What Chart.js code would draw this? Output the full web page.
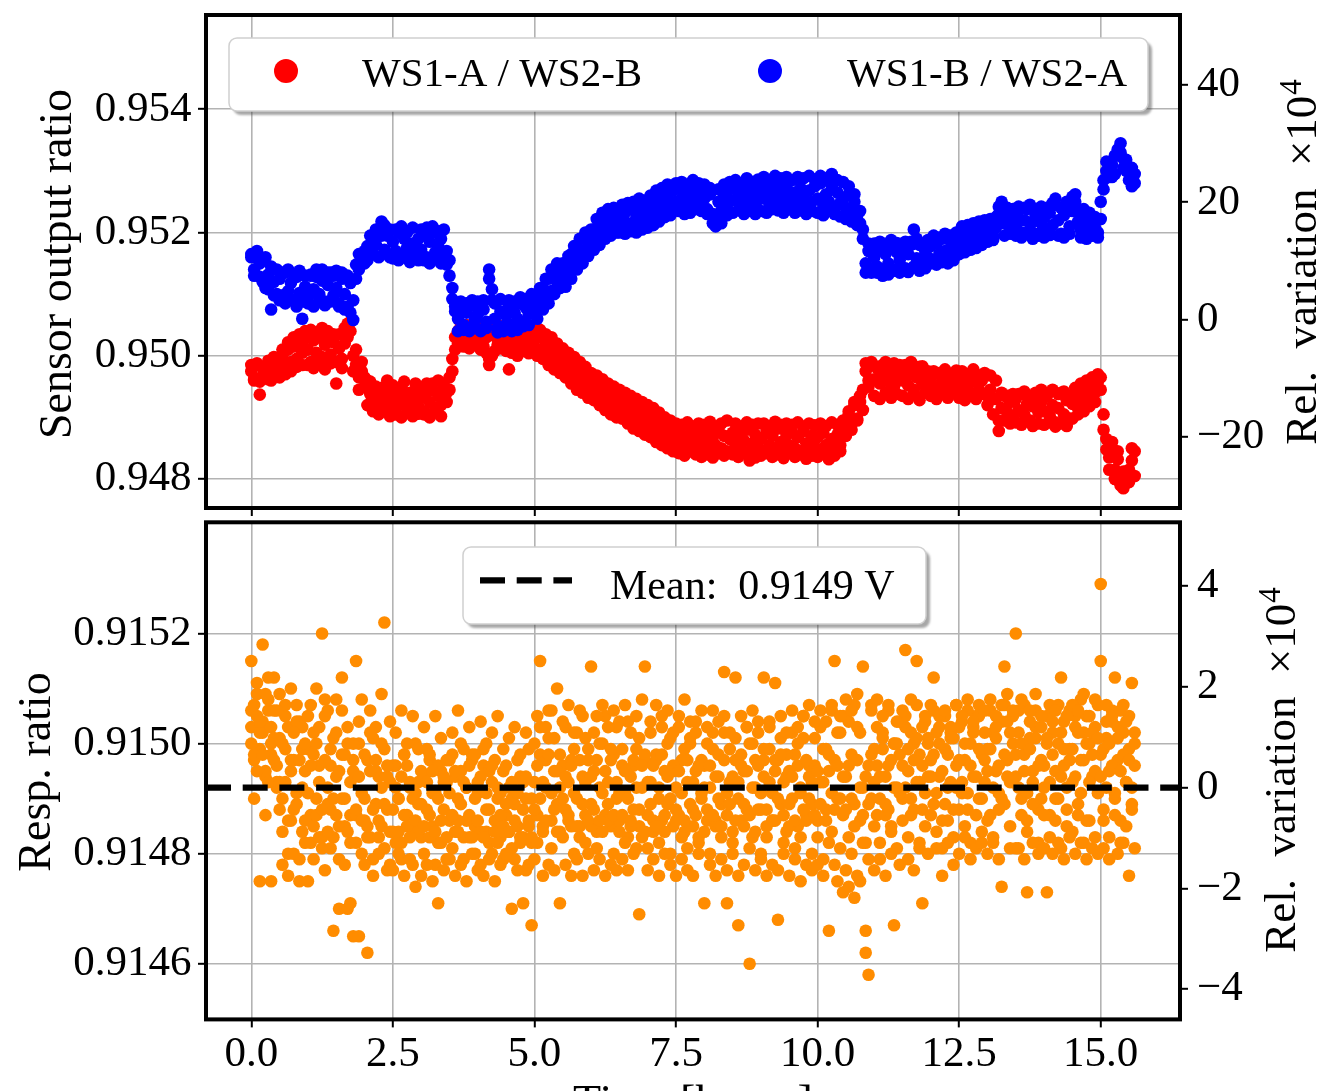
<!DOCTYPE html>
<html>
<head>
<meta charset="utf-8">
<title>Sensor output ratios over time</title>
<script src="https://cdn.jsdelivr.net/npm/chart.js@4.4.1/dist/chart.umd.min.js"></script>
<style>
  html, body { margin: 0; padding: 0; background: #ffffff; }
  #wrap { position: relative; width: 1317px; height: 1091px; overflow: hidden; }
  canvas { position: absolute; left: 0; }
  #ratioChart { top: 0; }
  #respChart { top: 516px; }
</style>
</head>
<body>
<div id="wrap">
  <canvas id="ratioChart" width="1317" height="516"></canvas>
  <canvas id="respChart" width="1317" height="575"></canvas>
</div>
<script>
// Sampling times [hours]
const timeHours = [
  0,0.05,0.1,0.15,0.2,0.25,0.3,0.35,0.4,0.45,
  0.5,0.55,0.6,0.65,0.7,0.75,0.8,0.85,0.9,0.95,
  1,1.05,1.1,1.15,1.2,1.25,1.3,1.35,1.4,1.45,
  1.5,1.55,1.6,1.65,1.7,1.75,1.8,1.85,1.9,1.95,
  2,2.05,2.1,2.15,2.2,2.25,2.3,2.35,2.4,2.45,
  2.5,2.55,2.6,2.65,2.7,2.75,2.8,2.85,2.9,2.95,
  3,3.05,3.1,3.15,3.2,3.25,3.3,3.35,3.4,3.45,
  3.5,3.55,3.6,3.65,3.7,3.75,3.8,3.85,3.9,3.95,
  4,4.05,4.1,4.15,4.2,4.25,4.3,4.35,4.4,4.45,
  4.5,4.55,4.6,4.65,4.7,4.75,4.8,4.85,4.9,4.95,
  5,5.05,5.1,5.15,5.2,5.25,5.3,5.35,5.4,5.45,
  5.5,5.55,5.6,5.65,5.7,5.75,5.8,5.85,5.9,5.95,
  6,6.05,6.1,6.15,6.2,6.25,6.3,6.35,6.4,6.45,
  6.5,6.55,6.6,6.65,6.7,6.75,6.8,6.85,6.9,6.95,
  7,7.05,7.1,7.15,7.2,7.25,7.3,7.35,7.4,7.45,
  7.5,7.55,7.6,7.65,7.7,7.75,7.8,7.85,7.9,7.95,
  8,8.05,8.1,8.15,8.2,8.25,8.3,8.35,8.4,8.45,
  8.5,8.55,8.6,8.65,8.7,8.75,8.8,8.85,8.9,8.95,
  9,9.05,9.1,9.15,9.2,9.25,9.3,9.35,9.4,9.45,
  9.5,9.55,9.6,9.65,9.7,9.75,9.8,9.85,9.9,9.95,
  10,10.05,10.1,10.15,10.2,10.25,10.3,10.35,10.4,10.45,
  10.5,10.55,10.6,10.65,10.7,10.75,10.8,10.85,10.9,10.95,
  11,11.05,11.1,11.15,11.2,11.25,11.3,11.35,11.4,11.45,
  11.5,11.55,11.6,11.65,11.7,11.75,11.8,11.85,11.9,11.95,
  12,12.05,12.1,12.15,12.2,12.25,12.3,12.35,12.4,12.45,
  12.5,12.55,12.6,12.65,12.7,12.75,12.8,12.85,12.9,12.95,
  13,13.05,13.1,13.15,13.2,13.25,13.3,13.35,13.4,13.45,
  13.5,13.55,13.6,13.65,13.7,13.75,13.8,13.85,13.9,13.95,
  14,14.05,14.1,14.15,14.2,14.25,14.3,14.35,14.4,14.45,
  14.5,14.55,14.6,14.65,14.7,14.75,14.8,14.85,14.9,14.95,
  15,15.05,15.1,15.15,15.2,15.25,15.3,15.35,15.4,15.45,
  15.5,15.55,15.6
];

// WS1-A / WS2-B sensor output ratio, two readings per sampling time
const ratioA1 = [
  0.94975,0.94960,0.94985,0.94937,0.94968,0.94980,0.94962,0.94990,0.94972,0.94995,
  0.94978,0.95000,0.94985,0.95010,0.94990,0.95015,0.94995,0.95020,0.95005,0.95028,
  0.95010,0.94990,0.95025,0.95005,0.95030,0.94998,0.95018,0.95035,0.95002,0.95022,
  0.94955,0.95012,0.94995,0.95020,0.95052,0.95040,0.95000,0.94985,0.94965,0.94975,
  0.94950,0.94960,0.94938,0.94945,0.94925,0.94940,0.94918,0.94935,0.94960,0.94922,
  0.94938,0.94915,0.94930,0.94948,0.94920,0.94935,0.94912,0.94928,0.94945,0.94918,
  0.94932,0.94910,0.94940,0.94925,0.94955,0.94915,0.94935,0.94920,0.94948,0.94940,
  0.94965,0.94995,0.95030,0.95040,0.95025,0.95045,0.95020,0.95038,0.95028,0.95042,
  0.95022,0.95035,0.95015,0.95030,0.94985,0.95000,0.95032,0.95018,0.95040,0.95025,
  0.95030,0.94978,0.95020,0.95035,0.95012,0.95028,0.95008,0.95022,0.95035,0.95015,
  0.95025,0.95010,0.95030,0.95005,0.95022,0.94998,0.95015,0.94990,0.95005,0.94985,
  0.94995,0.94975,0.94988,0.94965,0.94980,0.94958,0.94972,0.94950,0.94965,0.94945,
  0.94958,0.94940,0.94952,0.94932,0.94948,0.94925,0.94942,0.94920,0.94935,0.94915,
  0.94930,0.94910,0.94925,0.94905,0.94920,0.94898,0.94915,0.94895,0.94910,0.94890,
  0.94905,0.94885,0.94898,0.94878,0.94892,0.94872,0.94888,0.94868,0.94882,0.94862,
  0.94878,0.94858,0.94872,0.94852,0.94868,0.94885,0.94860,0.94875,0.94850,0.94870,
  0.94858,0.94878,0.94848,0.94868,0.94855,0.94880,0.94850,0.94870,0.94845,0.94865,
  0.94875,0.94852,0.94870,0.94848,0.94862,0.94880,0.94830,0.94858,0.94872,0.94850,
  0.94865,0.94845,0.94878,0.94855,0.94870,0.94850,0.94882,0.94860,0.94848,0.94872,
  0.94855,0.94875,0.94850,0.94868,0.94845,0.94878,0.94858,0.94840,0.94870,0.94852,
  0.94868,0.94848,0.94875,0.94855,0.94842,0.94865,0.94850,0.94872,0.94855,0.94880,
  0.94885,0.94905,0.94890,0.94920,0.94898,0.94925,0.94945,0.94975,0.94960,0.94985,
  0.94962,0.94980,0.94955,0.94972,0.94990,0.94958,0.94975,0.94950,0.94968,0.94985,
  0.94960,0.94978,0.94952,0.94970,0.94945,0.94965,0.94982,0.94955,0.94970,0.94948,
  0.94965,0.94950,0.94972,0.94945,0.94960,0.94955,0.94968,0.94942,0.94958,0.94950,
  0.94962,0.94940,0.94955,0.94948,0.94965,0.94935,0.94958,0.94945,0.94960,0.94938,
  0.94920,0.94945,0.94905,0.94930,0.94878,0.94915,0.94935,0.94908,0.94925,0.94900,
  0.94930,0.94912,0.94938,0.94905,0.94922,0.94895,0.94918,0.94932,0.94908,0.94925,
  0.94910,0.94935,0.94902,0.94920,0.94892,0.94915,0.94940,0.94905,0.94928,0.94898,
  0.94922,0.94935,0.94915,0.94940,0.94925,0.94948,0.94932,0.94952,0.94940,0.94958,
  0.94945,0.94905,0.94865,0.94835,0.94850,0.94815,0.94832,0.94800,0.94785,0.94810,
  0.94795,0.94830,0.94845
];
const ratioA2 = [
  0.94985,0.94962,0.94988,0.94958,0.94980,0.94965,0.94992,0.94960,0.94998,0.94970,
  0.94965,0.95010,0.94970,0.95022,0.94975,0.95030,0.94982,0.95035,0.94985,0.95040,
  0.94985,0.95042,0.94980,0.95038,0.94990,0.95045,0.94978,0.95040,0.94988,0.95035,
  0.94990,0.95035,0.94980,0.95045,0.95030,0.95055,0.94975,0.95010,0.94945,0.94990,
  0.94965,0.94920,0.94958,0.94910,0.94950,0.94905,0.94948,0.94912,0.94945,0.94902,
  0.94952,0.94905,0.94945,0.94900,0.94958,0.94908,0.94940,0.94902,0.94955,0.94906,
  0.94948,0.94905,0.94955,0.94900,0.94945,0.94908,0.94960,0.94902,0.94952,0.94925,
  0.94945,0.94975,0.95010,0.95020,0.95048,0.95015,0.95050,0.95012,0.95045,0.95018,
  0.95045,0.95010,0.95048,0.95005,0.94995,0.95045,0.95008,0.95050,0.95012,0.95042,
  0.95008,0.95045,0.95005,0.95042,0.95000,0.95048,0.95010,0.95040,0.95004,0.95045,
  0.95040,0.95000,0.95042,0.94995,0.95035,0.94985,0.95030,0.94978,0.95020,0.94972,
  0.95012,0.94965,0.95005,0.94955,0.94998,0.94945,0.94990,0.94940,0.94982,0.94932,
  0.94972,0.94928,0.94968,0.94920,0.94962,0.94912,0.94955,0.94905,0.94950,0.94900,
  0.94945,0.94898,0.94940,0.94890,0.94935,0.94882,0.94930,0.94878,0.94925,0.94872,
  0.94920,0.94868,0.94915,0.94860,0.94908,0.94855,0.94900,0.94850,0.94895,0.94845,
  0.94890,0.94842,0.94888,0.94838,0.94892,0.94845,0.94885,0.94840,0.94890,0.94836,
  0.94888,0.94840,0.94893,0.94835,0.94885,0.94842,0.94890,0.94838,0.94895,0.94844,
  0.94840,0.94890,0.94836,0.94885,0.94842,0.94892,0.94845,0.94888,0.94835,0.94890,
  0.94838,0.94890,0.94842,0.94886,0.94836,0.94893,0.94840,0.94888,0.94834,0.94890,
  0.94842,0.94888,0.94836,0.94892,0.94840,0.94885,0.94833,0.94890,0.94838,0.94887,
  0.94836,0.94890,0.94840,0.94886,0.94832,0.94892,0.94838,0.94888,0.94845,0.94895,
  0.94870,0.94910,0.94880,0.94925,0.94895,0.94935,0.94912,0.94988,0.94950,0.94990,
  0.94935,0.94982,0.94930,0.94985,0.94940,0.94978,0.94932,0.94988,0.94938,0.94980,
  0.94935,0.94985,0.94930,0.94990,0.94938,0.94980,0.94928,0.94983,0.94940,0.94975,
  0.94935,0.94975,0.94930,0.94972,0.94938,0.94978,0.94932,0.94970,0.94940,0.94976,
  0.94932,0.94975,0.94928,0.94970,0.94935,0.94978,0.94930,0.94968,0.94938,0.94972,
  0.94935,0.94968,0.94930,0.94960,0.94895,0.94940,0.94895,0.94935,0.94890,0.94938,
  0.94892,0.94938,0.94888,0.94942,0.94895,0.94935,0.94886,0.94940,0.94890,0.94945,
  0.94888,0.94940,0.94892,0.94945,0.94885,0.94938,0.94890,0.94942,0.94886,0.94935,
  0.94898,0.94948,0.94905,0.94955,0.94910,0.94960,0.94918,0.94965,0.94925,0.94970,
  0.94965,0.94880,0.94848,0.94815,0.94860,0.94800,0.94845,0.94790,0.94812,0.94795,
  0.94815,0.94850,0.94805
];

// WS1-B / WS2-A sensor output ratio, two readings per sampling time
const ratioB1 = [
  0.95160,0.95140,0.95170,0.95128,0.95155,0.95110,0.95132,0.95075,0.95120,0.95100,
  0.95125,0.95098,0.95135,0.95105,0.95118,0.95090,0.95128,0.95102,0.95060,0.95112,
  0.95095,0.95130,0.95108,0.95140,0.95100,0.95122,0.95088,0.95115,0.95135,0.95098,
  0.95110,0.95085,0.95125,0.95100,0.95080,0.95118,0.95058,0.95148,0.95140,0.95160,
  0.95150,0.95178,0.95165,0.95190,0.95180,0.95200,0.95218,0.95172,0.95195,0.95160,
  0.95185,0.95170,0.95200,0.95165,0.95190,0.95175,0.95158,0.95182,0.95168,0.95190,
  0.95172,0.95195,0.95160,0.95185,0.95200,0.95168,0.95178,0.95190,0.95162,0.95170,
  0.95130,0.95092,0.95072,0.95060,0.95080,0.95050,0.95070,0.95045,0.95082,0.95058,
  0.95068,0.95040,0.95075,0.95055,0.95125,0.95108,0.95060,0.95038,0.95072,0.95048,
  0.95065,0.95082,0.95050,0.95070,0.95060,0.95085,0.95055,0.95078,0.95068,0.95090,
  0.95075,0.95100,0.95085,0.95110,0.95095,0.95125,0.95105,0.95135,0.95120,0.95140,
  0.95128,0.95150,0.95138,0.95165,0.95148,0.95175,0.95160,0.95190,0.95172,0.95195,
  0.95180,0.95205,0.95190,0.95215,0.95198,0.95220,0.95205,0.95230,0.95212,0.95200,
  0.95225,0.95208,0.95232,0.95215,0.95238,0.95210,0.95225,0.95240,0.95218,0.95235,
  0.95222,0.95245,0.95230,0.95250,0.95235,0.95258,0.95240,0.95262,0.95245,0.95268,
  0.95250,0.95272,0.95255,0.95240,0.95265,0.95248,0.95275,0.95258,0.95242,0.95268,
  0.95255,0.95238,0.95262,0.95230,0.95225,0.95250,0.95235,0.95260,0.95245,0.95270,
  0.95252,0.95275,0.95258,0.95240,0.95265,0.95250,0.95272,0.95255,0.95245,0.95268,
  0.95255,0.95278,0.95260,0.95245,0.95270,0.95252,0.95280,0.95262,0.95248,0.95275,
  0.95258,0.95240,0.95265,0.95250,0.95272,0.95255,0.95242,0.95268,0.95250,0.95275,
  0.95255,0.95280,0.95245,0.95262,0.95250,0.95275,0.95238,0.95265,0.95248,0.95255,
  0.95240,0.95262,0.95235,0.95250,0.95228,0.95215,0.95205,0.95150,0.95170,0.95135,
  0.95160,0.95145,0.95172,0.95130,0.95165,0.95150,0.95178,0.95140,0.95168,0.95155,
  0.95175,0.95142,0.95165,0.95185,0.95205,0.95158,0.95180,0.95148,0.95170,0.95160,
  0.95178,0.95155,0.95182,0.95165,0.95190,0.95170,0.95162,0.95185,0.95172,0.95192,
  0.95180,0.95195,0.95175,0.95190,0.95200,0.95182,0.95198,0.95188,0.95205,0.95192,
  0.95200,0.95210,0.95195,0.95208,0.95242,0.95225,0.95215,0.95230,0.95205,0.95222,
  0.95210,0.95235,0.95200,0.95220,0.95238,0.95205,0.95218,0.95228,0.95198,0.95215,
  0.95225,0.95205,0.95232,0.95212,0.95245,0.95220,0.95198,0.95228,0.95240,0.95210,
  0.95235,0.95250,0.95218,0.95205,0.95230,0.95212,0.95200,0.95222,0.95208,0.95200,
  0.95222,0.95285,0.95300,0.95290,0.95310,0.95295,0.95325,0.95345,0.95320,0.95300,
  0.95285,0.95305,0.95280
];
const ratioB2 = [
  0.95165,0.95130,0.95168,0.95150,0.95120,0.95160,0.95108,0.95145,0.95098,0.95140,
  0.95090,0.95135,0.95085,0.95140,0.95092,0.95132,0.95080,0.95138,0.95088,0.95130,
  0.95085,0.95132,0.95080,0.95128,0.95090,0.95140,0.95082,0.95135,0.95088,0.95130,
  0.95138,0.95080,0.95135,0.95075,0.95130,0.95070,0.95090,0.95125,0.95165,0.95150,
  0.95170,0.95155,0.95195,0.95165,0.95205,0.95160,0.95195,0.95212,0.95165,0.95205,
  0.95158,0.95205,0.95155,0.95210,0.95160,0.95200,0.95152,0.95208,0.95162,0.95155,
  0.95205,0.95155,0.95208,0.95150,0.95210,0.95158,0.95202,0.95150,0.95205,0.95148,
  0.95155,0.95110,0.95080,0.95040,0.95088,0.95042,0.95085,0.95040,0.95090,0.95045,
  0.95088,0.95042,0.95090,0.95045,0.95140,0.95090,0.95085,0.95045,0.95092,0.95040,
  0.95045,0.95090,0.95040,0.95088,0.95042,0.95095,0.95048,0.95092,0.95050,0.95100,
  0.95098,0.95060,0.95110,0.95075,0.95125,0.95085,0.95140,0.95100,0.95150,0.95110,
  0.95150,0.95112,0.95162,0.95125,0.95178,0.95140,0.95190,0.95150,0.95200,0.95162,
  0.95205,0.95172,0.95222,0.95180,0.95232,0.95190,0.95238,0.95195,0.95240,0.95228,
  0.95200,0.95245,0.95198,0.95248,0.95202,0.95250,0.95200,0.95255,0.95205,0.95252,
  0.95208,0.95260,0.95212,0.95268,0.95218,0.95272,0.95225,0.95278,0.95228,0.95245,
  0.95280,0.95235,0.95282,0.95230,0.95278,0.95232,0.95285,0.95238,0.95280,0.95235,
  0.95278,0.95230,0.95272,0.95215,0.95210,0.95270,0.95215,0.95278,0.95228,0.95282,
  0.95232,0.95285,0.95236,0.95280,0.95230,0.95288,0.95235,0.95282,0.95230,0.95286,
  0.95235,0.95290,0.95232,0.95285,0.95238,0.95292,0.95236,0.95288,0.95232,0.95290,
  0.95238,0.95285,0.95232,0.95290,0.95236,0.95288,0.95230,0.95292,0.95235,0.95286,
  0.95232,0.95292,0.95228,0.95288,0.95235,0.95295,0.95230,0.95285,0.95226,0.95282,
  0.95222,0.95275,0.95218,0.95262,0.95212,0.95235,0.95190,0.95135,0.95182,0.95140,
  0.95182,0.95135,0.95185,0.95140,0.95180,0.95132,0.95188,0.95138,0.95183,0.95135,
  0.95140,0.95185,0.95136,0.95180,0.95145,0.95190,0.95138,0.95182,0.95142,0.95188,
  0.95150,0.95195,0.95148,0.95192,0.95152,0.95198,0.95150,0.95195,0.95155,0.95200,
  0.95165,0.95210,0.95168,0.95212,0.95172,0.95215,0.95175,0.95218,0.95180,0.95220,
  0.95185,0.95222,0.95188,0.95225,0.95230,0.95250,0.95195,0.95240,0.95198,0.95238,
  0.95195,0.95242,0.95192,0.95240,0.95198,0.95245,0.95190,0.95238,0.95195,0.95242,
  0.95192,0.95240,0.95196,0.95248,0.95255,0.95195,0.95240,0.95192,0.95250,0.95198,
  0.95258,0.95262,0.95235,0.95192,0.95238,0.95190,0.95232,0.95195,0.95225,0.95192,
  0.95250,0.95270,0.95315,0.95305,0.95290,0.95325,0.95335,0.95330,0.95305,0.95318,
  0.95300,0.95275,0.95295
];

// Response ratio, four readings per sampling time
const respRatio1 = [
  0.91503,0.91497,0.91505,0.91499,0.91502,0.91494,0.91506,0.91498,0.91501,0.91496,
  0.91488,0.91500,0.91493,0.91503,0.91486,0.91497,0.91491,0.91504,0.91484,0.91495,
  0.91499,0.91487,0.91502,0.91490,0.91496,0.91483,0.91505,0.91492,0.91488,0.91501,
  0.91494,0.91485,0.91498,0.91490,0.91503,0.91487,0.91495,0.91482,0.91500,0.91491,
  0.91486,0.91497,0.91483,0.91501,0.91489,0.91494,0.91485,0.91499,0.91488,0.91493,
  0.91484,0.91496,0.91490,0.91482,0.91498,0.91487,0.91492,0.91485,0.91500,0.91489,
  0.91483,0.91494,0.91488,0.91497,0.91485,0.91491,0.91482,0.91495,0.91488,0.91493,
  0.91486,0.91498,0.91484,0.91490,0.91495,0.91483,0.91492,0.91487,0.91497,0.91485,
  0.91491,0.91484,0.91496,0.91488,0.91482,0.91493,0.91486,0.91490,0.91483,0.91495,
  0.91487,0.91492,0.91481,0.91489,0.91485,0.91494,0.91483,0.91490,0.91486,0.91482,
  0.91493,0.91487,0.91498,0.91484,0.91492,0.91501,0.91486,0.91495,0.91489,0.91484,
  0.91496,0.91488,0.91493,0.91485,0.91499,0.91490,0.91483,0.91494,0.91487,0.91497,
  0.91489,0.91495,0.91484,0.91492,0.91500,0.91487,0.91493,0.91485,0.91498,0.91490,
  0.91486,0.91496,0.91491,0.91483,0.91494,0.91488,0.91499,0.91485,0.91492,0.91497,
  0.91487,0.91493,0.91484,0.91498,0.91490,0.91486,0.91495,0.91489,0.91501,0.91485,
  0.91492,0.91487,0.91497,0.91484,0.91493,0.91500,0.91488,0.91495,0.91483,0.91491,
  0.91496,0.91486,0.91492,0.91499,0.91485,0.91494,0.91489,0.91502,0.91487,0.91493,
  0.91484,0.91497,0.91490,0.91486,0.91495,0.91488,0.91500,0.91483,0.91492,0.91496,
  0.91488,0.91494,0.91485,0.91499,0.91491,0.91486,0.91497,0.91489,0.91493,0.91484,
  0.91495,0.91490,0.91498,0.91485,0.91492,0.91501,0.91487,0.91494,0.91489,0.91496,
  0.91486,0.91493,0.91499,0.91488,0.91495,0.91484,0.91497,0.91490,0.91502,0.91487,
  0.91494,0.91483,0.91498,0.91489,0.91503,0.91486,0.91492,0.91482,0.91496,0.91490,
  0.91499,0.91487,0.91494,0.91502,0.91489,0.91496,0.91485,0.91500,0.91492,0.91498,
  0.91490,0.91503,0.91495,0.91487,0.91500,0.91493,0.91498,0.91488,0.91504,0.91494,
  0.91497,0.91489,0.91502,0.91494,0.91486,0.91499,0.91492,0.91501,0.91488,0.91496,
  0.91503,0.91491,0.91497,0.91488,0.91500,0.91494,0.91505,0.91490,0.91498,0.91493,
  0.91499,0.91487,0.91502,0.91495,0.91491,0.91504,0.91489,0.91497,0.91493,0.91500,
  0.91494,0.91506,0.91490,0.91498,0.91486,0.91501,0.91495,0.91503,0.91488,0.91497,
  0.91492,0.91500,0.91487,0.91504,0.91495,0.91490,0.91502,0.91496,0.91485,0.91499,
  0.91493,0.91505,0.91489,0.91497,0.91502,0.91486,0.91500,0.91494,0.91503,0.91491,
  0.91498,0.91488,0.91501,0.91495,0.91504,0.91490,0.91497,0.91486,0.91502,0.91493,
  0.91499,0.91489,0.91496
];
const respRatio2 = [
  0.91506,0.91498,0.91511,0.91502,0.91518,0.91495,0.91508,0.91500,0.91512,0.91493,
  0.91501,0.91484,0.91507,0.91480,0.91497,0.91488,0.91504,0.91479,0.91499,0.91486,
  0.91505,0.91482,0.91498,0.91487,0.91503,0.91481,0.91508,0.91489,0.91496,0.91483,
  0.91502,0.91479,0.91506,0.91485,0.91500,0.91482,0.91497,0.91487,0.91504,0.91480,
  0.91498,0.91483,0.91502,0.91479,0.91495,0.91486,0.91500,0.91481,0.91494,0.91478,
  0.91496,0.91482,0.91490,0.91479,0.91498,0.91485,0.91493,0.91478,0.91491,0.91484,
  0.91495,0.91480,0.91499,0.91483,0.91491,0.91478,0.91496,0.91482,0.91493,0.91479,
  0.91497,0.91481,0.91494,0.91486,0.91500,0.91479,0.91492,0.91483,0.91498,0.91480,
  0.91493,0.91478,0.91499,0.91484,0.91495,0.91480,0.91497,0.91482,0.91491,0.91479,
  0.91496,0.91484,0.91490,0.91479,0.91497,0.91482,0.91493,0.91477,0.91499,0.91483,
  0.91500,0.91482,0.91503,0.91485,0.91497,0.91506,0.91481,0.91501,0.91484,0.91498,
  0.91483,0.91503,0.91486,0.91497,0.91480,0.91502,0.91485,0.91505,0.91482,0.91499,
  0.91485,0.91502,0.91481,0.91500,0.91484,0.91505,0.91486,0.91497,0.91480,0.91503,
  0.91484,0.91499,0.91482,0.91504,0.91485,0.91496,0.91481,0.91501,0.91483,0.91498,
  0.91481,0.91502,0.91486,0.91497,0.91482,0.91505,0.91484,0.91500,0.91480,0.91496,
  0.91486,0.91503,0.91483,0.91499,0.91481,0.91501,0.91485,0.91504,0.91482,0.91497,
  0.91484,0.91500,0.91480,0.91502,0.91486,0.91498,0.91483,0.91505,0.91471,0.91499,
  0.91482,0.91501,0.91467,0.91496,0.91485,0.91503,0.91481,0.91500,0.91484,0.91502,
  0.91480,0.91499,0.91483,0.91504,0.91486,0.91497,0.91468,0.91501,0.91482,0.91498,
  0.91485,0.91502,0.91481,0.91500,0.91483,0.91505,0.91486,0.91496,0.91480,0.91501,
  0.91483,0.91503,0.91479,0.91499,0.91482,0.91506,0.91478,0.91502,0.91481,0.91505,
  0.91477,0.91504,0.91480,0.91507,0.91476,0.91502,0.91482,0.91466,0.91479,0.91506,
  0.91485,0.91503,0.91482,0.91501,0.91487,0.91506,0.91484,0.91500,0.91481,0.91504,
  0.91486,0.91505,0.91483,0.91502,0.91488,0.91507,0.91482,0.91503,0.91485,0.91501,
  0.91487,0.91506,0.91484,0.91503,0.91481,0.91505,0.91486,0.91502,0.91483,0.91507,
  0.91488,0.91504,0.91485,0.91506,0.91482,0.91503,0.91487,0.91505,0.91484,0.91502,
  0.91486,0.91506,0.91483,0.91503,0.91488,0.91507,0.91514,0.91504,0.91485,0.91505,
  0.91481,0.91502,0.91487,0.91507,0.91484,0.91504,0.91489,0.91506,0.91482,0.91503,
  0.91487,0.91505,0.91483,0.91502,0.91486,0.91507,0.91481,0.91504,0.91488,0.91506,
  0.91484,0.91503,0.91487,0.91508,0.91482,0.91505,0.91486,0.91502,0.91483,0.91507,
  0.91515,0.91486,0.91504,0.91483,0.91506,0.91487,0.91503,0.91482,0.91507,0.91485,
  0.91505,0.91488,0.91502
];
const respRatio3 = [
  0.91515,0.91490,0.91509,0.91475,0.91504,0.91487,0.91512,0.91475,0.91506,0.91492,
  0.91509,0.91478,0.91505,0.91476,0.91510,0.91480,0.91507,0.91475,0.91503,0.91482,
  0.91475,0.91507,0.91479,0.91510,0.91483,0.91520,0.91477,0.91506,0.91481,0.91466,
  0.91508,0.91470,0.91512,0.91478,0.91470,0.91471,0.91465,0.91515,0.91465,0.91508,
  0.91478,0.91462,0.91506,0.91476,0.91503,0.91480,0.91509,0.91522,0.91477,0.91504,
  0.91477,0.91502,0.91480,0.91506,0.91476,0.91500,0.91479,0.91505,0.91474,0.91499,
  0.91476,0.91503,0.91478,0.91498,0.91475,0.91505,0.91471,0.91501,0.91477,0.91497,
  0.91479,0.91502,0.91476,0.91506,0.91478,0.91499,0.91475,0.91503,0.91480,0.91498,
  0.91477,0.91504,0.91476,0.91500,0.91479,0.91502,0.91475,0.91505,0.91478,0.91499,
  0.91480,0.91501,0.91470,0.91503,0.91477,0.91498,0.91471,0.91502,0.91478,0.91467,
  0.91479,0.91505,0.91515,0.91476,0.91503,0.91478,0.91506,0.91477,0.91510,0.91471,
  0.91504,0.91478,0.91507,0.91476,0.91502,0.91479,0.91506,0.91476,0.91501,0.91480,
  0.91514,0.91477,0.91505,0.91479,0.91507,0.91476,0.91503,0.91478,0.91506,0.91477,
  0.91504,0.91479,0.91507,0.91477,0.91502,0.91480,0.91505,0.91469,0.91508,0.91514,
  0.91477,0.91504,0.91479,0.91507,0.91476,0.91503,0.91480,0.91506,0.91478,0.91502,
  0.91476,0.91505,0.91479,0.91508,0.91477,0.91504,0.91476,0.91502,0.91480,0.91506,
  0.91471,0.91503,0.91478,0.91506,0.91476,0.91504,0.91479,0.91513,0.91477,0.91502,
  0.91480,0.91512,0.91476,0.91505,0.91478,0.91503,0.91460,0.91506,0.91477,0.91504,
  0.91479,0.91512,0.91476,0.91503,0.91478,0.91511,0.91477,0.91505,0.91480,0.91502,
  0.91476,0.91506,0.91479,0.91503,0.91475,0.91505,0.91478,0.91507,0.91477,0.91504,
  0.91478,0.91506,0.91476,0.91504,0.91466,0.91507,0.91515,0.91475,0.91505,0.91473,
  0.91508,0.91474,0.91506,0.91472,0.91509,0.91475,0.91514,0.91462,0.91458,0.91507,
  0.91477,0.91508,0.91479,0.91505,0.91476,0.91507,0.91480,0.91467,0.91504,0.91478,
  0.91506,0.91517,0.91479,0.91508,0.91477,0.91515,0.91481,0.91471,0.91505,0.91480,
  0.91507,0.91512,0.91481,0.91505,0.91476,0.91506,0.91482,0.91503,0.91478,0.91507,
  0.91480,0.91505,0.91483,0.91508,0.91479,0.91504,0.91481,0.91507,0.91482,0.91506,
  0.91480,0.91508,0.91482,0.91505,0.91479,0.91474,0.91507,0.91509,0.91481,0.91506,
  0.91520,0.91481,0.91508,0.91479,0.91473,0.91506,0.91482,0.91509,0.91480,0.91505,
  0.91481,0.91473,0.91507,0.91480,0.91506,0.91482,0.91512,0.91479,0.91505,0.91483,
  0.91507,0.91480,0.91506,0.91482,0.91509,0.91479,0.91505,0.91481,0.91508,0.91480,
  0.91529,0.91481,0.91507,0.91479,0.91505,0.91512,0.91480,0.91506,0.91482,0.91504,
  0.91476,0.91511,0.91481
];
const respRatio4 = [
  0.91500,0.91507,0.91495,0.91504,0.91498,0.91509,0.91493,0.91503,0.91497,0.91506,
  0.91493,0.91490,0.91499,0.91486,0.91495,0.91502,0.91489,0.91497,0.91492,0.91500,
  0.91491,0.91496,0.91485,0.91500,0.91493,0.91488,0.91497,0.91484,0.91499,0.91490,
  0.91487,0.91495,0.91490,0.91498,0.91484,0.91493,0.91500,0.91488,0.91494,0.91486,
  0.91490,0.91485,0.91495,0.91488,0.91497,0.91483,0.91492,0.91489,0.91496,0.91484,
  0.91488,0.91492,0.91484,0.91494,0.91487,0.91496,0.91483,0.91490,0.91486,0.91493,
  0.91489,0.91485,0.91493,0.91487,0.91495,0.91484,0.91490,0.91486,0.91494,0.91483,
  0.91491,0.91487,0.91495,0.91484,0.91489,0.91493,0.91486,0.91496,0.91483,0.91490,
  0.91486,0.91494,0.91483,0.91491,0.91488,0.91496,0.91484,0.91492,0.91487,0.91485,
  0.91489,0.91484,0.91493,0.91486,0.91491,0.91483,0.91488,0.91494,0.91485,0.91490,
  0.91488,0.91496,0.91490,0.91493,0.91486,0.91498,0.91491,0.91488,0.91495,0.91492,
  0.91490,0.91494,0.91487,0.91496,0.91491,0.91485,0.91497,0.91489,0.91493,0.91486,
  0.91494,0.91488,0.91497,0.91486,0.91491,0.91495,0.91489,0.91499,0.91487,0.91493,
  0.91491,0.91487,0.91495,0.91490,0.91486,0.91497,0.91492,0.91488,0.91496,0.91484,
  0.91493,0.91489,0.91496,0.91485,0.91492,0.91498,0.91487,0.91494,0.91490,0.91495,
  0.91488,0.91495,0.91491,0.91486,0.91497,0.91489,0.91493,0.91487,0.91496,0.91490,
  0.91492,0.91488,0.91496,0.91487,0.91494,0.91490,0.91485,0.91497,0.91491,0.91489,
  0.91494,0.91486,0.91493,0.91498,0.91489,0.91495,0.91487,0.91492,0.91497,0.91488,
  0.91491,0.91497,0.91488,0.91493,0.91486,0.91495,0.91490,0.91498,0.91487,0.91494,
  0.91489,0.91494,0.91486,0.91496,0.91491,0.91488,0.91497,0.91490,0.91493,0.91487,
  0.91495,0.91489,0.91493,0.91486,0.91498,0.91491,0.91488,0.91496,0.91490,0.91494,
  0.91488,0.91496,0.91490,0.91485,0.91497,0.91492,0.91487,0.91494,0.91489,0.91498,
  0.91493,0.91496,0.91490,0.91499,0.91494,0.91488,0.91497,0.91492,0.91500,0.91491,
  0.91496,0.91492,0.91499,0.91490,0.91497,0.91501,0.91493,0.91496,0.91491,0.91500,
  0.91494,0.91498,0.91491,0.91500,0.91495,0.91489,0.91498,0.91493,0.91501,0.91492,
  0.91497,0.91493,0.91500,0.91491,0.91496,0.91502,0.91494,0.91499,0.91490,0.91497,
  0.91495,0.91499,0.91492,0.91501,0.91496,0.91490,0.91498,0.91494,0.91502,0.91493,
  0.91498,0.91492,0.91500,0.91495,0.91491,0.91499,0.91493,0.91501,0.91496,0.91490,
  0.91496,0.91501,0.91493,0.91498,0.91490,0.91500,0.91494,0.91499,0.91492,0.91497,
  0.91499,0.91494,0.91502,0.91491,0.91497,0.91500,0.91493,0.91498,0.91495,0.91501,
  0.91494,0.91499,0.91492,0.91500,0.91496,0.91491,0.91501,0.91495,0.91498,0.91493,
  0.91497,0.91492,0.91500
];

// Axis limits and tick values
const timeRange = [-0.8, 16.4];
const timeTicks = [0, 2.5, 5, 7.5, 10, 12.5, 15];
const ratioRange = [0.94753, 0.95553];
const ratioTicks = [0.948, 0.950, 0.952, 0.954];
const ratioRelTicks = [-20, 0, 20, 40];
const ratioReference = 0.95059;
const respRange = [0.914499, 0.915402];
const respTicks = [0.9146, 0.9148, 0.9150, 0.9152];
const respRelTicks = [-4, -2, 0, 2, 4];
const respMean = 0.91492;

const SERIF = '"Liberation Serif", "Times New Roman", "DejaVu Serif", serif';
const GRID_COLOR = '#b3b3b3';

const relVariation = (value, ref) => (value / ref - 1) * 1e4;
const minusSign = s => String(s).replace('-', '\u2212');
const toPoints = (xs, ys) => ys.map((y, i) => ({ x: xs[i], y }));
const useTicks = values => scale => { scale.ticks = values.map(v => ({ value: v })); };
const fixSize = (prop, size) => scale => {
  scale[prop] = size;
  scale.paddingTop = 0; scale.paddingBottom = 0;
  scale.paddingLeft = 0; scale.paddingRight = 0;
};
const tickFont = { family: SERIF, size: 43, weight: 'normal' };

// Thick black frame around the plotting area
const framePlugin = {
  id: 'frame',
  afterDatasetsDraw(chart) {
    const { ctx, chartArea: a } = chart;
    ctx.save();
    ctx.strokeStyle = '#000';
    ctx.lineWidth = 4;
    ctx.strokeRect(a.left, a.top, a.right - a.left, a.bottom - a.top);
    ctx.restore();
  }
};

// Rounded legend box with drop shadow, drawn inside the axes
const boxLegendPlugin = {
  id: 'boxLegend',
  afterDraw(chart, args, opts) {
    const { ctx } = chart;
    const b = opts.box;
    ctx.save();
    ctx.fillStyle = 'rgba(60,60,60,0.45)';
    ctx.filter = 'blur(1px)';
    ctx.beginPath();
    ctx.roundRect(b.x + 4, b.y + 4, b.w, b.h, 8);
    ctx.fill();
    ctx.filter = 'none';
    ctx.fillStyle = '#ffffff';
    ctx.strokeStyle = '#d0d0d0';
    ctx.lineWidth = 1.5;
    ctx.beginPath();
    ctx.roundRect(b.x, b.y, b.w, b.h, 8);
    ctx.fill();
    ctx.stroke();
    ctx.font = `${opts.fontSize}px ${SERIF}`;
    ctx.textBaseline = 'alphabetic';
    ctx.textAlign = 'left';
    opts.items.forEach(item => {
      const ds = chart.data.datasets[item.dataset];
      if (item.kind === 'dot') {
        ctx.fillStyle = ds.backgroundColor;
        ctx.beginPath();
        ctx.arc(item.markerX, opts.markerY, opts.markerRadius, 0, Math.PI * 2);
        ctx.fill();
      } else {
        ctx.strokeStyle = ds.borderColor;
        ctx.lineWidth = ds.borderWidth;
        ctx.setLineDash(ds.borderDash || []);
        ctx.beginPath();
        ctx.moveTo(item.markerX, opts.markerY);
        ctx.lineTo(item.markerX2, opts.markerY);
        ctx.stroke();
        ctx.setLineDash([]);
      }
      ctx.fillStyle = '#000';
      ctx.fillText(ds.label, item.textX, opts.baseline);
    });
    ctx.restore();
  }
};

// Axis titles (rotated side titles, optional superscript)
const axisTitlePlugin = {
  id: 'axisTitles',
  afterDraw(chart, args, opts) {
    const { ctx } = chart;
    opts.items.forEach(t => {
      ctx.save();
      ctx.fillStyle = '#000';
      ctx.textBaseline = 'alphabetic';
      ctx.textAlign = 'left';
      ctx.translate(t.x, t.y);
      if (t.rotate) ctx.rotate(-Math.PI / 2);
      ctx.font = `${t.size}px ${SERIF}`;
      const w1 = ctx.measureText(t.text).width;
      let w2 = 0;
      if (t.sup) {
        ctx.font = `${t.supSize}px ${SERIF}`;
        w2 = ctx.measureText(t.sup).width + 1;
      }
      const start = -(w1 + w2) / 2;
      ctx.font = `${t.size}px ${SERIF}`;
      ctx.fillText(t.text, start, 0);
      if (t.sup) {
        ctx.font = `${t.supSize}px ${SERIF}`;
        ctx.fillText(t.sup, start + w1 + 1, -t.supRaise);
      }
      ctx.restore();
    });
  }
};

function gridOpts(onArea) {
  return {
    drawOnChartArea: onArea,
    color: GRID_COLOR,
    lineWidth: 1.6,
    drawTicks: true,
    tickLength: 8,
    tickColor: '#000',
    tickWidth: 2
  };
}

function buildScales(cfg) {
  return {
    x: {
      type: 'linear',
      min: timeRange[0],
      max: timeRange[1],
      afterBuildTicks: useTicks(timeTicks),
      afterFit: fixSize('height', cfg.xHeight),
      grid: gridOpts(true),
      border: { display: false },
      ticks: {
        display: cfg.showTimeLabels,
        font: tickFont,
        color: '#000',
        padding: 2,
        maxRotation: 0,
        autoSkip: false,
        callback: v => Number(v).toFixed(1)
      }
    },
    y: {
      type: 'linear',
      position: 'left',
      min: cfg.range[0],
      max: cfg.range[1],
      afterBuildTicks: useTicks(cfg.ticks),
      afterFit: fixSize('width', 206),
      grid: gridOpts(true),
      border: { display: false },
      ticks: {
        font: tickFont,
        color: '#000',
        padding: 6.5,
        callback: v => Number(v).toFixed(cfg.decimals)
      }
    },
    rel: {
      type: 'linear',
      position: 'right',
      min: relVariation(cfg.range[0], cfg.reference),
      max: relVariation(cfg.range[1], cfg.reference),
      afterBuildTicks: useTicks(cfg.relTicks),
      afterFit: fixSize('width', 137),
      grid: gridOpts(false),
      border: { display: false },
      ticks: {
        font: tickFont,
        color: '#000',
        padding: 9,
        callback: v => minusSign(Math.round(v))
      }
    }
  };
}

const pointStyle = color => ({
  backgroundColor: color,
  borderColor: color,
  borderWidth: 0,
  pointRadius: 6.3,
  pointHoverRadius: 6.3,
  pointBorderWidth: 0
});

// Upper panel: the two cross-connected sensor ratios
new Chart(document.getElementById('ratioChart'), {
  type: 'scatter',
  data: {
    datasets: [
      Object.assign({
        label: 'WS1-A / WS2-B',
        data: toPoints(timeHours, ratioA1).concat(toPoints(timeHours, ratioA2)),
        order: 1
      }, pointStyle('#ff0000')),
      Object.assign({
        label: 'WS1-B / WS2-A',
        data: toPoints(timeHours, ratioB1).concat(toPoints(timeHours, ratioB2)),
        order: 0
      }, pointStyle('#0000ff'))
    ]
  },
  options: {
    responsive: false,
    animation: false,
    devicePixelRatio: 1,
    events: [],
    layout: { padding: { top: 15, left: 0, right: 0, bottom: 0 } },
    scales: buildScales({
      xHeight: 8, showTimeLabels: false,
      range: ratioRange, ticks: ratioTicks, decimals: 3,
      relTicks: ratioRelTicks, reference: ratioReference
    }),
    plugins: {
      legend: { display: false },
      tooltip: { enabled: false },
      boxLegend: {
        box: { x: 229, y: 38, w: 919, h: 73 },
        fontSize: 41, baseline: 86, markerY: 71, markerRadius: 12,
        items: [
          { dataset: 0, kind: 'dot', markerX: 286, textX: 362 },
          { dataset: 1, kind: 'dot', markerX: 770, textX: 847 }
        ]
      },
      axisTitles: {
        items: [
          { text: 'Sensor output ratio', x: 71, y: 264, rotate: true, size: 46 },
          { text: 'Rel.  variation  \u00d710', sup: '4', x: 1316, y: 262, rotate: true, size: 45, supSize: 31, supRaise: 15 }
        ]
      }
    }
  },
  plugins: [framePlugin, boxLegendPlugin, axisTitlePlugin]
});

// Lower panel: response ratio with its mean
new Chart(document.getElementById('respChart'), {
  type: 'scatter',
  data: {
    datasets: [
      {
        type: 'line',
        label: 'Mean:  ' + respMean.toFixed(4) + ' V',
        data: [{ x: timeRange[0], y: respMean }, { x: timeRange[1], y: respMean }],
        borderColor: '#000',
        borderWidth: 6.3,
        borderDash: [25, 11.7],
        borderCapStyle: 'butt',
        pointRadius: 0,
        showLine: true,
        fill: false,
        order: 0
      },
      Object.assign({
        label: 'Resp. ratio',
        data: toPoints(timeHours, respRatio1)
          .concat(toPoints(timeHours, respRatio2))
          .concat(toPoints(timeHours, respRatio3))
          .concat(toPoints(timeHours, respRatio4)),
        order: 1
      }, pointStyle('#ff8c00'))
    ]
  },
  options: {
    responsive: false,
    animation: false,
    devicePixelRatio: 1,
    events: [],
    layout: { padding: { top: 6, left: 0, right: 0, bottom: 0 } },
    scales: buildScales({
      xHeight: 71.6, showTimeLabels: true,
      range: respRange, ticks: respTicks, decimals: 4,
      relTicks: respRelTicks, reference: respMean
    }),
    plugins: {
      legend: { display: false },
      tooltip: { enabled: false },
      boxLegend: {
        box: { x: 463, y: 31, w: 463, h: 77 },
        fontSize: 42, baseline: 83, markerY: 64.4,
        items: [
          { dataset: 0, kind: 'line', markerX: 480, markerX2: 572, textX: 610 }
        ]
      },
      axisTitles: {
        items: [
          { text: 'Resp. ratio', x: 50, y: 256, rotate: true, size: 46 },
          { text: 'Rel.  variation  \u00d710', sup: '4', x: 1295, y: 254, rotate: true, size: 45, supSize: 31, supRaise: 15 },
          { text: 'Time [hours]', x: 693, y: 601, rotate: false, size: 46 }
        ]
      }
    }
  },
  plugins: [framePlugin, boxLegendPlugin, axisTitlePlugin]
});
</script>
</body>
</html>
